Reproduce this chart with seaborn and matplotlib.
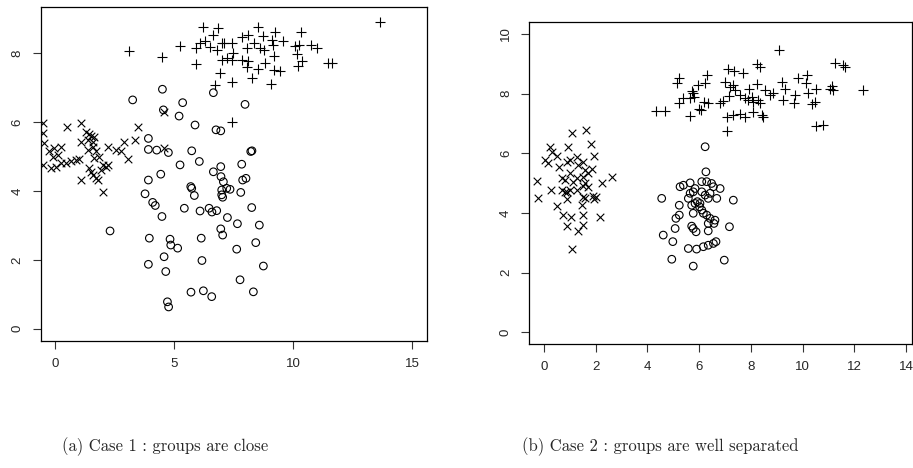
import matplotlib
matplotlib.use("Agg")
import matplotlib.pyplot as plt
import seaborn as sns

# Case 1 : groups are close
case1_circle_x = [3.25, 4.50, 4.54, 5.35, 5.20, 5.87, 6.64, 6.75, 6.95, 3.91, 3.91, 4.26, 4.75, 5.73, 5.24, 6.05,
                  4.43, 6.64, 6.95, 3.91, 5.69, 5.73, 6.96, 7.06, 6.99, 3.77, 4.09, 4.20, 4.48, 5.84, 5.42, 6.08,
                  6.46, 6.58, 6.78, 7.03, 7.20, 7.23, 2.30, 3.95, 4.82, 4.85, 5.14, 6.13, 6.95, 7.03, 3.91, 4.57,
                  6.16, 4.64, 5.70, 6.22, 6.57, 4.71, 4.76, 7.34, 7.79, 8.25, 7.65, 8.57, 8.42, 7.62, 8.74, 7.76,
                  8.32, 7.97, 8.21, 8.26, 7.83, 7.87, 8.01, 6.99]
case1_circle_y = [6.65, 6.96, 6.36, 6.57, 6.18, 5.92, 6.86, 5.78, 5.75, 5.53, 5.21, 5.19, 5.12, 5.17, 4.76, 4.86,
                  4.49, 4.56, 4.71, 4.32, 4.13, 4.08, 4.42, 4.27, 4.03, 3.92, 3.67, 3.58, 3.26, 3.87, 3.50, 3.42,
                  3.50, 3.39, 3.43, 3.82, 4.08, 3.23, 2.84, 2.63, 2.60, 2.43, 2.34, 2.63, 2.90, 2.72, 1.87, 2.09,
                  1.98, 1.66, 1.06, 1.10, 0.93, 0.78, 0.63, 4.05, 3.96, 3.52, 3.05, 3.01, 2.50, 2.31, 1.82, 1.42,
                  1.07, 6.52, 5.15, 5.17, 4.78, 4.32, 4.37, 3.89]

case1_cross_x = [-0.53, -0.53, 0.49, 1.08, 1.29, 1.43, 1.50, 1.64, 1.36, 1.57, 1.08, -0.46, -0.25, -0.04, 0.24,
                 -0.11, 0.10, -0.53, -0.18, 0.03, 0.24, 0.45, 0.66, 0.87, 1.01, 1.36, 1.57, 1.71, 1.64, 1.85,
                 1.99, 2.20, 2.13, 1.92, 1.43, 1.50, 1.57, 1.71, 1.78, 1.08, 2.20, 2.55, 2.76, 2.90, 3.07, 3.36,
                 3.49, 1.99, 4.55, 4.55]
case1_cross_y = [5.97, 5.68, 5.85, 5.99, 5.73, 5.66, 5.60, 5.56, 5.49, 5.44, 5.44, 5.39, 5.15, 5.24, 5.29,
                 5.00, 5.05, 4.76, 4.66, 4.71, 4.81, 4.83, 4.86, 4.90, 4.92, 5.19, 5.29, 5.15, 4.95, 5.00,
                 4.76, 4.76, 4.69, 4.61, 4.66, 4.56, 4.47, 4.37, 4.32, 4.32, 5.29, 5.19, 5.17, 5.44, 4.92, 5.47,
                 5.85, 3.98, 6.31, 5.25]

case1_plus_x = [3.11, 4.50, 5.24, 6.22, 6.85, 6.64, 5.91, 5.90, 6.08, 6.29, 6.50, 6.78, 6.99, 6.92, 6.71, 7.20,
                8.53, 9.23, 10.32, 8.08, 7.83, 8.74, 7.41, 8.36, 9.09, 9.58, 10.07, 10.24, 10.74, 10.98, 8.04,
                8.60, 8.78, 9.16, 9.20, 10.14, 10.38, 10.18, 7.41, 7.48, 7.83, 8.11, 8.04, 8.50, 8.81, 9.20,
                9.44, 8.25, 7.41, 9.06, 11.47, 11.64, 13.64, 7.41, 7.10, 7.00]
case1_plus_y = [8.07, 7.91, 8.22, 8.78, 8.75, 8.54, 8.15, 7.69, 8.31, 8.37, 8.20, 8.10, 8.31, 7.44, 7.08, 7.86,
                8.76, 8.62, 8.62, 8.54, 8.49, 8.51, 8.30, 8.31, 8.39, 8.37, 8.22, 8.25, 8.25, 8.15, 8.15,
                8.15, 8.10, 8.25, 7.93, 7.99, 7.79, 7.64, 7.81, 8.01, 7.81, 7.79, 7.62, 7.54, 7.73, 7.52,
                7.49, 7.30, 7.18, 7.11, 7.73, 7.73, 8.92, 6.00, 8.30, 7.80]

# Case 2 : groups are well separated
case2_circle_x = [6.23, 6.26, 4.55, 5.26, 5.39, 5.65, 6.10, 6.29, 6.48, 6.55, 6.81, 5.65, 5.77, 5.84, 6.10, 6.23,
                  6.42, 6.35, 6.68, 7.32, 5.58, 5.71, 5.84, 5.93, 6.03, 6.01, 6.10, 6.16, 5.23, 5.23, 5.10, 5.77,
                  6.29, 6.42, 6.61, 6.57, 6.35, 7.17, 5.07, 5.71, 5.77, 5.88, 6.35, 4.61, 4.98, 5.58, 5.90, 6.16,
                  6.35, 6.55, 6.65, 4.94, 5.77, 6.97]
case2_circle_y = [6.22, 5.38, 4.49, 4.88, 4.93, 5.01, 5.05, 5.05, 4.99, 4.88, 4.82, 4.66, 4.71, 4.82, 4.71, 4.60,
                  4.66, 4.49, 4.49, 4.43, 4.49, 4.26, 4.32, 4.38, 4.32, 4.21, 4.10, 3.99, 4.26, 3.93, 3.82, 3.99,
                  3.93, 3.82, 3.76, 3.65, 3.65, 3.54, 3.48, 3.56, 3.48, 3.37, 3.40, 3.26, 3.04, 2.81, 2.79, 2.87,
                  2.92, 2.98, 3.04, 2.45, 2.22, 2.42]

case2_cross_x = [-0.28, 1.07, 1.62, 1.81, 0.23, 0.30, 0.04, 0.17, 0.51, 0.94, 0.88, 1.01, 1.26, 1.33, 1.52, 1.59,
                 1.93, 0.59, 0.68, 0.81, 1.01, 1.13, 1.26, 1.52, 1.71, 1.84, 2.23, 2.62, 1.59, 1.71, 1.26, -0.22,
                 0.26, 0.68, 0.81, 1.01, 0.88, 1.52, 0.88, 1.52, 1.59, 1.91, 2.01, 1.93, 0.49, 1.46, 0.72, 1.04,
                 1.52, 2.17, 0.88, 1.33, 1.50, 1.07]
case2_cross_y = [5.07, 6.67, 6.78, 6.30, 6.22, 6.05, 5.77, 5.66, 5.91, 6.22, 5.70, 5.77, 5.88, 5.60, 5.72, 5.43,
                 5.91, 5.55, 5.16, 5.10, 5.33, 5.05, 5.16, 5.21, 5.33, 5.49, 4.99, 5.21, 4.99, 4.88, 4.77, 4.51,
                 4.77, 4.77, 4.71, 4.77, 4.71, 4.90, 4.46, 4.54, 4.49, 4.57, 4.54, 4.46, 4.23, 4.26, 3.93, 3.85,
                 3.93, 3.87, 3.57, 3.40, 3.59, 2.81]

case2_plus_x = [4.33, 4.68, 5.13, 5.23, 5.23, 5.39, 5.65, 5.71, 5.80, 5.97, 6.01, 9.09, 6.29, 6.23, 5.77, 7.13,
                7.35, 7.68, 8.22, 8.35, 7.00, 7.19, 7.32, 7.39, 7.94, 8.25, 7.58, 7.77, 7.90, 8.03, 8.09, 8.29,
                8.35, 7.17, 6.81, 6.93, 6.35, 6.19, 6.06, 7.06, 7.30, 7.58, 7.77, 8.09, 8.42, 8.46, 7.09, 8.55,
                8.74, 8.87, 9.19, 9.23, 9.32, 9.67, 9.71, 9.81, 10.16, 10.13, 10.22, 10.52, 10.35, 10.48, 10.52,
                10.80, 11.12, 11.16, 11.06, 11.25, 11.55, 11.64, 12.32, 5.65]
case2_plus_y = [7.42, 7.42, 8.34, 8.54, 7.67, 7.84, 7.25, 8.09, 7.89, 8.28, 7.50, 9.46, 8.62, 8.36, 8.01, 8.84,
                8.75, 8.70, 8.98, 8.90, 8.40, 8.23, 8.28, 8.12, 8.17, 8.32, 7.95, 7.84, 7.78, 7.89, 7.73, 7.78,
                7.67, 7.92, 7.67, 7.76, 7.67, 7.73, 7.45, 7.22, 7.28, 7.31, 7.20, 7.39, 7.28, 7.22, 6.74, 8.12,
                7.97, 8.01, 8.40, 7.78, 8.14, 7.69, 7.97, 8.53, 8.62, 8.36, 8.03, 8.14, 7.65, 7.73, 6.91,
                6.94, 8.25, 8.12, 8.14, 9.01, 8.96, 8.90, 8.12, 7.87]

captions = ["(a) Case 1 : groups are close", "(b) Case 2 : groups are well separated"]

sns.set_style("white")
plt.rcParams['font.family'] = ['Liberation Sans', 'DejaVu Sans']

W, H = 913, 468
fig = plt.figure(figsize=(W / 100, H / 100), dpi=100)
ax1 = fig.add_axes([41 / W, 1 - 341 / H, (426.7 - 41) / W, (341 - 6.7) / H])
ax2 = fig.add_axes([529.3 / W, 1 - 344 / H, (912 - 529.3) / W, (344 - 22.3) / H])


def draw(ax, cx, cy, xx, xy, px, py):
    sns.scatterplot(x=cx, y=cy, marker='o', s=30, facecolors='none', edgecolor='black', linewidth=0.8, ax=ax)
    sns.scatterplot(x=xx, y=xy, marker='x', s=30, color='black', linewidth=0.8, ax=ax)
    sns.scatterplot(x=px, y=py, marker='+', s=48, color='black', linewidth=0.8, ax=ax)
    for sp in ax.spines.values():
        sp.set_visible(True)
        sp.set_color('black')
        sp.set_linewidth(0.9)
    ax.tick_params(axis='both', direction='out', length=6, width=0.8, color='#333333',
                   labelsize=9.5, pad=6.5, left=True, bottom=True)


draw(ax1, case1_circle_x, case1_circle_y, case1_cross_x, case1_cross_y, case1_plus_x, case1_plus_y)
ax1.set_xlim(-0.6, 15.6)
ax1.set_ylim(-0.36, 9.36)
ax1.set_xticks([0, 5, 10, 15])
ax1.set_yticks([0, 2, 4, 6, 8])
for lab in ax1.get_yticklabels():
    lab.set_rotation(90)
    lab.set_va('center')

draw(ax2, case2_circle_x, case2_circle_y, case2_cross_x, case2_cross_y, case2_plus_x, case2_plus_y)
ax2.set_xlim(-0.57, 14.23)
ax2.set_ylim(-0.39, 10.39)
ax2.set_xticks([0, 2, 4, 6, 8, 10, 12, 14])
ax2.set_yticks([0, 2, 4, 6, 8, 10])
for lab in ax2.get_yticklabels():
    lab.set_rotation(90)
    lab.set_va('center')

fig.text(165 / W, 1 - 447 / H, captions[0], ha='center', va='center', family='cmr10', fontsize=12)
fig.text(660 / W, 1 - 447 / H, captions[1], ha='center', va='center', family='cmr10', fontsize=12)

fig.savefig("out.png", dpi=100)
